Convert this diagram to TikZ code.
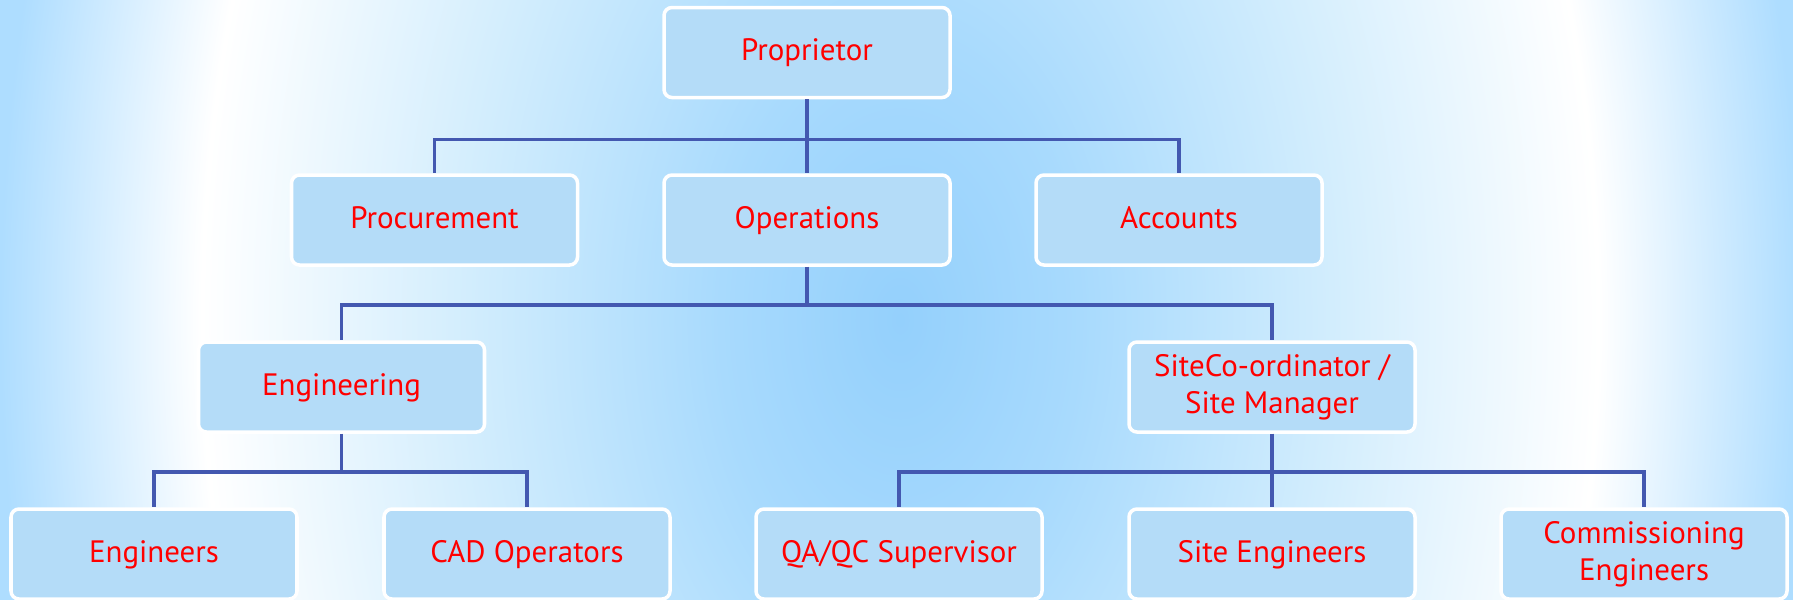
\documentclass[tikz,border=0pt]{standalone}
\usepackage{fontspec}
\setmainfont{PT Sans}

\definecolor{boxfill}{HTML}{B4DCF8}
\definecolor{linkblue}{HTML}{4358B0}
\definecolor{glowin}{HTML}{94D0FC}
\definecolor{glowa}{HTML}{A8DAFD}
\definecolor{glowb}{HTML}{D2EDFD}
\definecolor{glowout}{HTML}{AEDDFF}
\pgfdeclareradialshading{bgglow}{\pgfpoint{0bp}{0bp}}{%
  color(0bp)=(glowin); color(5bp)=(glowa); color(12bp)=(glowb);
  color(19.4bp)=(white); color(25bp)=(glowout); color(50bp)=(glowout)}

\begin{document}
\begin{tikzpicture}
      [box/.style={rounded corners=0.08cm, draw=white, line width=1pt, fill=boxfill,
                   minimum width=2.86cm, minimum height=0.9cm, align=center,
                   text=red, font=\fontsize{8.8}{10.6}\selectfont},
       oneline/.style={box, text height=0.7em, text depth=0.22em},
       link/.style={draw=linkblue, line width=1pt}]
      \useasboundingbox (0,0) rectangle (17.93,-5.99);
      \clip (0,0) rectangle (17.93,-5.99);
      \shade[shading=bgglow] (0,10.94) rectangle (18,-17.34);

      \node[oneline] (prop) at (8.07,-0.525) {Proprietor};

      \node[oneline] (proc) at (4.345,-2.2) {Procurement};
      \node[oneline] (oper) at (8.07,-2.2) {Operations};
      \node[oneline] (acct) at (11.79,-2.2) {Accounts};

      \node[oneline] (engg) at (3.415,-3.87) {Engineering};
      \node[box] (site) at (12.72,-3.87) {SiteCo-ordinator /\\Site Manager};

      \node[oneline] (engs) at (1.54,-5.54) {Engineers};
      \node[oneline] (cad) at (5.27,-5.54) {CAD Operators};
      \node[oneline] (qaqc) at (8.99,-5.54) {QA/QC Supervisor};
      \node[oneline] (siteeng) at (12.72,-5.54) {Site Engineers};
      \node[box] (comm) at (16.44,-5.54) {Commissioning\\Engineers};

      \foreach \to in {proc, oper, acct}
      \draw[link] (prop.south) -- ++(0,-0.4) -| (\to.north);
      \foreach \to in {engg, site}
      \draw[link] (oper.south) -- ++(0,-0.38) -| (\to.north);
      \foreach \to in {engs, cad}
      \draw[link] (engg.south) -- ++(0,-0.38) -| (\to.north);
      \foreach \to in {qaqc, siteeng, comm}
      \draw[link] (site.south) -- ++(0,-0.38) -| (\to.north);
    \end{tikzpicture}
\end{document}
